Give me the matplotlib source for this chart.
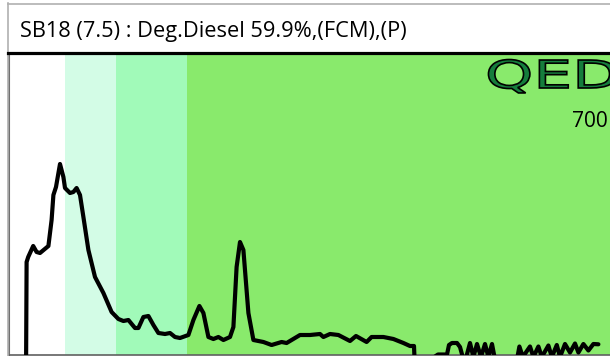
import matplotlib.pyplot as plt
from matplotlib.lines import Line2D
from matplotlib.patches import PathPatch
from matplotlib.textpath import TextPath
from matplotlib.font_manager import FontProperties
from matplotlib.transforms import Affine2D

W, H = 610, 356

title = "SB18 (7.5) : Deg.Diesel 59.9%,(FCM),(P)"
scale_label = "700"

# retention time (min) and detector response
time = [0.85, 0.88, 0.96, 1.21, 1.38, 1.55, 1.97, 2.13, 2.22, 2.35, 2.55, 2.72,
        2.80, 3.05, 3.22, 3.38, 3.55, 3.72, 3.97, 4.30, 4.72, 5.13, 5.47, 5.72,
        5.97, 6.30, 6.47, 6.72, 6.97, 7.22, 7.47, 7.80, 8.05, 8.30, 8.55, 8.97,
        9.22, 9.52, 9.72, 9.97, 10.22, 10.47, 10.72, 11.05, 11.22, 11.38, 11.55,
        11.72, 11.97, 12.22, 12.72, 13.13, 13.63, 13.88, 14.55, 15.05, 15.55,
        15.72, 16.05, 16.47, 17.05, 17.35, 17.88, 18.13, 18.72, 19.22, 19.72,
        20.05, 20.25, 20.30, 21.45, 21.90, 22.00, 22.15, 22.40, 22.55, 22.70,
        22.85, 23.05, 23.22, 23.40, 23.60, 23.80, 23.97, 24.15, 24.35, 25.35,
        25.52, 25.69, 26.05, 26.22, 26.47, 26.64, 26.97, 27.14, 27.39, 27.55,
        27.80, 28.05, 28.30, 28.47, 28.72, 28.97, 29.22, 29.47]
signal = [-25, 93, 98, 109, 103, 102, 109, 135, 160, 168, 191, 178, 167, 162,
          163, 167, 160, 138, 105, 78, 62, 43, 36, 34, 35, 27, 27, 38, 39, 30,
          22, 21, 22, 18, 17, 20, 35, 49, 42, 18, 16, 18, 15, 18, 28, 88, 113,
          105, 42, 15, 13, 10, 13, 12, 20, 20, 21, 18, 21, 20, 14, 19, 13, 18,
          18, 16, 12, 9, 9, -15, 0.5, 0.5, 10, 12, 12, 8, -3, -3, 12, -2, 11,
          -2, 11, -2, 11, -10, -10, 8.5, -2, 8.5, -2, 8.5, -2, 9.5, -2, 10, -2,
          11, 2.5, 11.5, 2.5, 11, 4.5, 11, 10.7]

# sample fraction bands (start, end, colour)
band_start = [2.80, 5.35, 8.90]
band_end = [5.35, 8.90, 31.0]
band_color = ["#d3fce6", "#a1fab9", "#89ea6c"]

fig = plt.figure(figsize=(W / 100, H / 100), dpi=100)
fig.patch.set_facecolor("white")


def fx(px):
    return px / W


def fy(py):
    return 1 - py / H


# outer frame of the panel
fig.add_artist(Line2D([fx(8), fx(8)], [fy(3), fy(356)], color="#b0b0b0", lw=1.2))
fig.add_artist(Line2D([fx(8), fx(610)], [fy(3.5), fy(3.5)], color="#b0b0b0", lw=1.2))

fig.text(fx(20), fy(37), title, fontsize=15.7, family="Open Sans", va="baseline",
         ha="left", color="black")

ax = fig.add_axes([fx(9), fy(355), fx(601), (355 - 54) / H])
ax.set_xlim(0, 30.05)
ax.set_ylim(0, 301)
ax.set_facecolor("white")

for s, e, c in zip(band_start, band_end, band_color):
    ax.axvspan(s, e, color=c, lw=0, zorder=0)

ax.plot(time, signal, color="black", lw=3.0, solid_joinstyle="round",
        solid_capstyle="round", zorder=3)

ax.set_xticks([])
ax.set_yticks([])
for side in ["top", "right"]:
    ax.spines[side].set_visible(False)
ax.spines["left"].set_color("#707070")
ax.spines["left"].set_linewidth(1.5)
ax.spines["bottom"].set_color("#606060")
ax.spines["bottom"].set_linewidth(1.2)

ax.text(0.9965, 0.758, scale_label, transform=ax.transAxes, ha="right",
        va="baseline", fontsize=15, family="Open Sans", color="black")

# header rule
fig.add_artist(Line2D([fx(8), fx(610)], [fy(52.7), fy(52.7)], color="black", lw=2.3))

# logo, stretched horizontally
tp = TextPath((0, 0), "QED", size=38.4, prop=FontProperties(family="DejaVu Sans"))
logo = Affine2D().scale(1.6, 1.0).translate(485, H - 88)
fig.add_artist(PathPatch(tp, transform=logo, facecolor="#157d3c",
                         edgecolor="black", lw=1.2, zorder=5))

fig.savefig("out.png", dpi=100)
